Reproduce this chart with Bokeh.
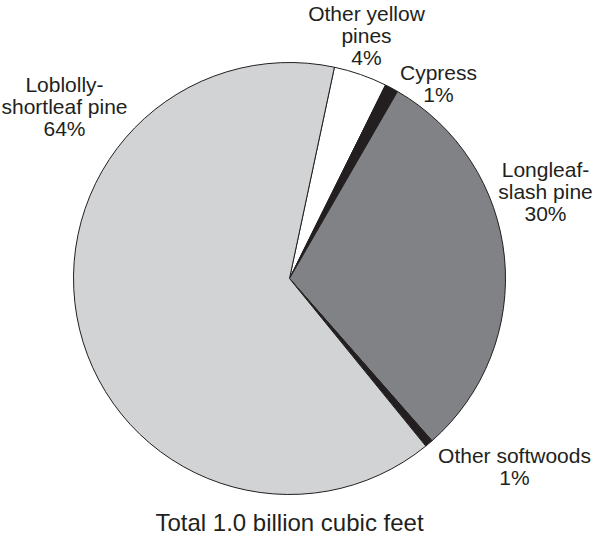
import math
from bokeh.plotting import figure
from bokeh.models import Range1d, ColumnDataSource
from bokeh.core.properties import value
from bokeh.embed import file_html
from bokeh.resources import INLINE

# ---- data (clockwise from the white slice) ----
categories = ["Other yellow pines", "Cypress", "Longleaf-slash pine",
              "Other softwoods", "Loblolly-shortleaf pine"]
shares = [4.0, 1.0, 30.2, 0.6, 64.2]          # measured slice sizes (%)
label_pcts = ["4%", "1%", "30%", "1%", "64%"]  # printed labels
label_names = [["Other yellow", "pines"], ["Cypress"], ["Longleaf-", "slash pine"],
               ["Other softwoods"], ["Loblolly-", "shortleaf pine"]]
colors = ["#ffffff", "#231f20", "#808285", "#231f20", "#d1d3d4"]
total_text = "Total 1.0 billion cubic feet"

W, H = 592, 536
START_DEG = 12.0  # clockwise from 12 o'clock where first slice begins
TEXT_SHIFT = 7    # renderer places text slightly low; compensate


def py(page_y):
    # convert page pixel y (from top) to data y (upward)
    return (H + 8) - page_y


def px(page_x):
    return page_x - 8


p = figure(width=W, height=H, output_backend="svg", toolbar_location=None,
           x_range=Range1d(0, W), y_range=Range1d(0, H),
           min_border=0, outline_line_color=None, background_fill_color="white")
p.axis.visible = False
p.xgrid.visible = False
p.ygrid.visible = False

cx, cy, r = px(297), py(286), 216

starts, ends = [], []
acc = START_DEG
for s in shares:
    a1 = acc
    a2 = acc + s * 3.6
    starts.append(math.radians(90 - a1))
    ends.append(math.radians(90 - a2))
    acc = a2

src = ColumnDataSource(dict(start=starts, end=ends, color=colors, cat=categories))
p.wedge(x=cx, y=cy, radius=r, start_angle="start", end_angle="end",
        direction="clock", fill_color="color", line_color="#231f20",
        line_width=1, source=src)

# label placement (page coords): center x, first baseline
label_pos = [(374, 28), (446, 87), (553, 184), (522, 470), (72, 99)]
LINE = 22

xs, ys, texts = [], [], []
for (lx, ly), names, pct in zip(label_pos, label_names, label_pcts):
    lines = names + [pct]
    for i, t in enumerate(lines):
        xs.append(px(lx))
        ys.append(py(ly + i * LINE - TEXT_SHIFT))
        texts.append(t)

p.text(x=xs, y=ys, text=texts, text_align="center", text_baseline="alphabetic",
       text_font=value("Liberation Sans"), text_font_size="21px", text_color="#231f20")

p.text(x=[px(297)], y=[py(537 - TEXT_SHIFT)], text=[total_text], text_align="center",
       text_baseline="alphabetic", text_font=value("Liberation Sans"),
       text_font_size="24px", text_color="#231f20")

open("out.html", "w").write(file_html(p, INLINE))
